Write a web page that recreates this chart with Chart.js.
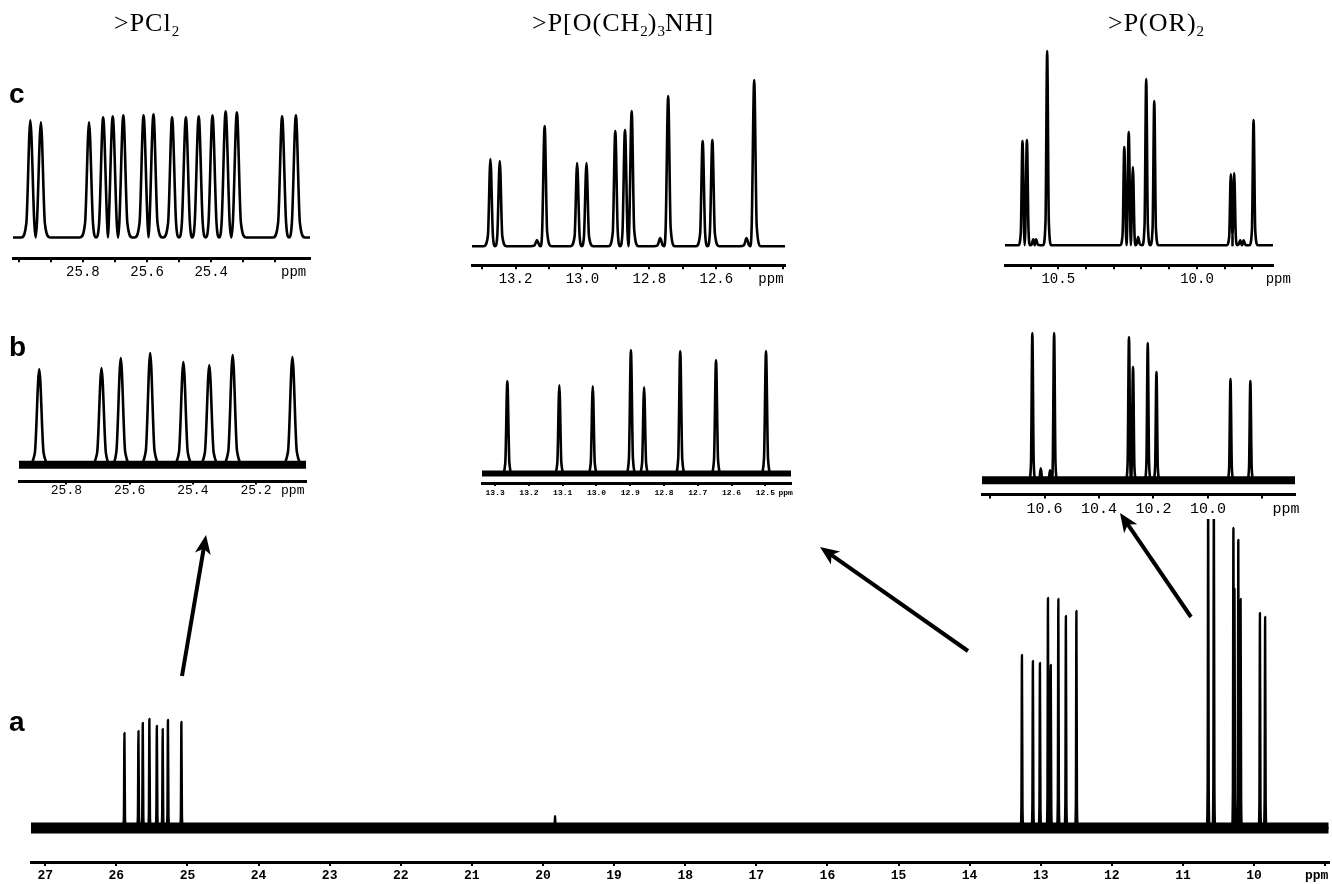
<!DOCTYPE html>
<html>
<head>
<meta charset="utf-8">
<title>31P NMR spectra</title>
<script src="https://cdn.jsdelivr.net/npm/chart.js@4.4.1/dist/chart.umd.min.js"></script>
<style>
  body{margin:0;background:#fff;}
  #wrap{position:relative;width:1332px;height:884px;overflow:hidden;background:#fff;}
  #wrap canvas{position:absolute;}
  .ttl{position:absolute;top:9px;font:26px "Liberation Serif",serif;letter-spacing:1px;white-space:nowrap;line-height:28px;}
  .ttl sub{font-size:15px;vertical-align:-5px;line-height:0;letter-spacing:0;}
  .tag{position:absolute;left:9px;font:bold 28px "Liberation Sans",Arial,sans-serif;line-height:32px;}
</style>
</head>
<body>
<div id="wrap">
  <canvas id="main" width="1332" height="886" style="left:0;top:0"></canvas>
  <div class="ttl" style="left:114px">&gt;PCl<sub>2</sub></div>
  <div class="ttl" style="left:532px">&gt;P[O(CH<sub>2</sub>)<sub>3</sub>NH]</div>
  <div class="ttl" style="left:1108px">&gt;P(OR)<sub>2</sub></div>
  <div class="tag" style="top:78px">c</div>
  <div class="tag" style="top:331px">b</div>
  <div class="tag" style="top:706px">a</div>
</div>
<script>
// ---- spectrum a (full range) ----
const mainTicks = [27, 26, 25, 24, 23, 22, 21, 20, 19, 18, 17, 16, 15, 14, 13, 12, 11, 10, 9];
const mainTickLabels = ['27','26','25','24','23','22','21','20','19','18','17','16','15','14','13','12','11','10',''];
const mainPpm = [25.886, 25.689, 25.628, 25.535, 25.430, 25.348, 25.274, 25.085, 19.83,
                 13.264, 13.110, 13.011, 12.898, 12.859, 12.752, 12.646, 12.498,
                 10.645, 10.565, 10.290, 10.275, 10.221, 10.189, 9.917, 9.844];
const mainHeight = [95, 97, 105, 109, 102, 99, 108, 106, 12,
                    173, 167, 165, 230, 163, 229, 212, 217,
                    340, 340, 300, 239, 288, 229, 215, 211];

// ---- row c ----
const cPcl2Ppm = [25.964, 25.931, 25.781, 25.737, 25.707, 25.674, 25.611, 25.580, 25.522, 25.479, 25.439, 25.396, 25.355, 25.320, 25.179, 25.136];
const cPcl2Height = [117, 115, 115, 120, 121, 122, 122, 123, 120, 120, 121, 122, 126, 125, 121, 122];
const cPcl2Ticks = [26.0, 25.9, 25.8, 25.7, 25.6, 25.5, 25.4, 25.3, 25.2];
const cPcl2TickLabels = ['', '', '25.8', '', '25.6', '', '25.4', '', ''];

const cAminePpm = [13.275, 13.247, 13.136, 13.113, 13.016, 12.988, 12.902, 12.873, 12.853, 12.768, 12.744, 12.641, 12.612, 12.510, 12.487];
const cAmineHeight = [87, 85, 6, 120, 83, 83, 115, 116, 135, 8, 150, 105, 106, 8, 166];
const cAmineTicks = [13.3, 13.2, 13.1, 13.0, 12.9, 12.8, 12.7, 12.6, 12.5, 12.4];
const cAmineTickLabels = ['', '13.2', '', '13.0', '', '12.8', '', '12.6', '', ''];

const cOrPpm = [10.629, 10.613, 10.590, 10.580, 10.540, 10.262, 10.246, 10.231, 10.212, 10.183, 10.154, 9.878, 9.866, 9.844, 9.832, 9.796];
const cOrHeight = [104, 105, 6, 6, 194, 98, 113, 78, 8, 166, 144, 71, 72, 5, 5, 125];
const cOrTicks = [10.6, 10.5, 10.4, 10.3, 10.2, 10.1, 10.0, 9.9, 9.8];
const cOrTickLabels = ['', '10.5', '', '', '', '', '10.0', '', ''];

// ---- row b ----
const bPcl2Ppm = [25.886, 25.689, 25.628, 25.535, 25.430, 25.348, 25.274, 25.085];
const bPcl2Height = [96, 97, 107, 112, 103, 100, 110, 108];
const bPcl2Ticks = [25.8, 25.6, 25.4, 25.2];
const bPcl2TickLabels = ['25.8', '25.6', '25.4', '25.2'];

const bAminePpm = [13.264, 13.110, 13.011, 12.898, 12.859, 12.752, 12.646, 12.498];
const bAmineHeight = [92, 88, 87, 123, 86, 122, 113, 122];
const bAmineTicks = [13.3, 13.2, 13.1, 13.0, 12.9, 12.8, 12.7, 12.6, 12.5];
const bAmineTickLabels = ['13.3', '13.2', '13.1', '13.0', '12.9', '12.8', '12.7', '12.6', '12.5'];

const bOrPpm = [10.645, 10.614, 10.580, 10.565, 10.290, 10.275, 10.221, 10.189, 9.917, 9.844];
const bOrHeight = [147, 12, 10, 147, 143, 113, 137, 108, 101, 99];
const bOrTicks = [10.8, 10.6, 10.4, 10.2, 10.0, 9.8];
const bOrTickLabels = ['', '10.6', '10.4', '10.2', '10.0', ''];

// ---- layout (pixels) and line shapes (half widths in ppm) ----
const insetLayout = {
  cPcl2:  {left: 12.7,  right: 310,    top: 100, axisY: 258,   baseY: 237.3, min: 25.092, max: 26.018, unit: 25.143, w: 0.0125, s: 0.028, fs: 14, fw: 'normal', tl: 4, pad: 1.5, band: 0},
  cAmine: {left: 471.7, right: 785,    top: 70,  axisY: 265,   baseY: 246,   min: 12.395, max: 13.33,  unit: 12.437, w: 0.0075, s: 0.02,  fs: 14, fw: 'normal', tl: 4, pad: 2,   band: 0},
  cOr:    {left: 1005,  right: 1272.7, top: 45,  axisY: 265,   baseY: 245,   min: 9.726,  max: 10.692, unit: 9.707,  w: 0.006,  s: 0.015, fs: 14, fw: 'normal', tl: 4, pad: 2,   band: 0},
  bPcl2:  {left: 19.3,  right: 306.7,  top: 345, axisY: 481.7, baseY: 465,   min: 25.042, max: 25.95,  unit: 25.084, w: 0.014,  s: 0.035, fs: 13, fw: 'normal', tl: 3, pad: -2,  band: 8},
  bAmine: {left: 481.7, right: 790.7,  top: 345, axisY: 482.7, baseY: 473.3, min: 12.424, max: 13.339, unit: 12.44,  w: 0.006,  s: 0.015, fs: 8,  fw: 'bold',   tl: 3, pad: 2.2, band: 6},
  bOr:    {left: 981.7, right: 1295,   top: 325, axisY: 494,   baseY: 480,   min: 9.68,   max: 10.83,  unit: 9.713,  w: 0.005,  s: 0.012, fs: 15, fw: 'normal', tl: 4, pad: 1.3, band: 8}
};
const arrowList = [[182, 676, 206, 535], [968, 651, 820, 547], [1191, 617, 1120, 513]];
const SHOULDER = 0.12;

// peaks -> line trace: baseline with a narrow spike and short skirt per peak
function trace(ppm, height, w, s, lo, hi) {
  const pts = [{x: hi, y: 0}];
  ppm.forEach((p, i) => {
    const g1 = i > 0 ? ppm[i - 1] - p : Infinity;
    const g2 = i < ppm.length - 1 ? p - ppm[i + 1] : Infinity;
    if (g1 >= 2 * s) pts.push({x: p + s, y: 0});
    if (g1 >= 2 * w) pts.push({x: p + w, y: height[i] * SHOULDER});
    pts.push({x: p, y: height[i]});
    if (g2 >= 2 * w) pts.push({x: p - w, y: height[i] * SHOULDER});
    if (g2 >= 2 * s) pts.push({x: p - s, y: 0});
    else pts.push({x: p - g2 / 2, y: 0});
  });
  pts.push({x: lo, y: 0});
  return pts;
}

const unitLabel = {
  id: 'unitLabel',
  afterDraw(chart, args, o) {
    const sc = chart.scales.x, ctx = chart.ctx;
    ctx.save();
    ctx.font = o.font;
    ctx.fillStyle = '#000';
    ctx.textAlign = 'center';
    ctx.textBaseline = 'middle';
    ctx.fillText('ppm', sc.getPixelForValue(o.at), sc.top + o.dy);
    ctx.restore();
  }
};

const arrows = {
  id: 'arrows',
  afterDraw(chart, args, o) {
    const ctx = chart.ctx;
    o.list.forEach(([x1, y1, x2, y2]) => {
      const a = Math.atan2(y2 - y1, x2 - x1);
      ctx.save();
      ctx.strokeStyle = ctx.fillStyle = '#000';
      ctx.lineWidth = 4;
      ctx.beginPath();
      ctx.moveTo(x1, y1);
      ctx.lineTo(x2 - Math.cos(a) * 12, y2 - Math.sin(a) * 12);
      ctx.stroke();
      ctx.translate(x2, y2);
      ctx.rotate(a);
      ctx.beginPath();
      ctx.moveTo(0, 0);
      ctx.lineTo(-19, -8);
      ctx.lineTo(-14, 0);
      ctx.lineTo(-19, 8);
      ctx.closePath();
      ctx.fill();
      ctx.restore();
    });
  }
};

function spectrum(canvas, o) {
  const datasets = [{data: o.points, borderColor: '#000', borderWidth: o.lw, pointRadius: 0,
                     borderJoinStyle: 'round', cubicInterpolationMode: 'monotone'}];
  if (o.band) datasets.push({data: [{x: o.max, y: 0}, {x: o.min, y: 0}], borderColor: '#000', borderWidth: o.band, pointRadius: 0});
  const font = {family: '"Liberation Mono", monospace', size: o.fs, weight: o.fw};
  return new Chart(canvas, {
    type: 'line',
    data: {datasets},
    options: {
      responsive: false, animation: false, events: [],
      layout: {padding: o.padding},
      plugins: {
        legend: {display: false}, tooltip: {enabled: false},
        unitLabel: {at: o.unit, dy: o.tl + o.pad + o.fs * 0.6, font: `${o.fw} ${o.fs}px "Liberation Mono", monospace`},
        arrows: {list: o.arrows || []}
      },
      scales: {
        x: {
          type: 'linear', reverse: true, min: o.min, max: o.max,
          afterBuildTicks: axis => { axis.ticks = o.ticks.map(v => ({value: v})); },
          ticks: {autoSkip: false, maxRotation: 0, padding: o.pad, color: '#000', font, callback: (v, i) => o.labels[i]},
          grid: {display: true, drawOnChartArea: false, drawTicks: true, tickLength: o.tl, color: '#000', lineWidth: 2},
          border: {display: true, color: '#000', width: 3}
        },
        y: {display: false, min: o.ymin, max: o.ymax}
      }
    },
    plugins: o.arrows ? [unitLabel, arrows] : [unitLabel]
  });
}

// main spectrum a
spectrum(document.getElementById('main'), {
  points: trace(mainPpm, mainHeight, 0.008, 0.02, 8.95, 27.2),
  min: 8.95, max: 27.2, ymin: -34, ymax: 309, lw: 2.4, band: 11,
  ticks: mainTicks, labels: mainTickLabels, unit: 9.12,
  fs: 13, fw: 'bold', tl: 4, pad: 2.2,
  padding: {left: 31, right: 3.3, top: 519, bottom: 0},
  arrows: arrowList
});

function inset(L, ppm, height, ticks, labels) {
  const padL = 4, padR = 34, padB = 12;
  // x axis box height as Chart.js measures it: tick marks + label line + padding on both sides
  const axisH = L.tl + 2 * L.pad + L.fs * 1.2;
  const cv = document.createElement('canvas');
  cv.width = Math.round(L.right - L.left + padL + padR);
  cv.height = Math.round(L.axisY - L.top + axisH + padB);
  cv.style.left = (L.left - padL) + 'px';
  cv.style.top = L.top + 'px';
  document.getElementById('wrap').appendChild(cv);
  spectrum(cv, {
    points: trace(ppm, height, L.w, L.s, L.min, L.max),
    min: L.min, max: L.max, ymin: -(L.axisY - L.baseY), ymax: L.baseY - L.top,
    lw: 2.6, band: L.band, ticks, labels, unit: L.unit,
    fs: L.fs, fw: L.fw, tl: L.tl, pad: L.pad,
    padding: {left: padL, right: padR, top: 0, bottom: padB}
  });
}

inset(insetLayout.cPcl2, cPcl2Ppm, cPcl2Height, cPcl2Ticks, cPcl2TickLabels);
inset(insetLayout.cAmine, cAminePpm, cAmineHeight, cAmineTicks, cAmineTickLabels);
inset(insetLayout.cOr, cOrPpm, cOrHeight, cOrTicks, cOrTickLabels);
inset(insetLayout.bPcl2, bPcl2Ppm, bPcl2Height, bPcl2Ticks, bPcl2TickLabels);
inset(insetLayout.bAmine, bAminePpm, bAmineHeight, bAmineTicks, bAmineTickLabels);
inset(insetLayout.bOr, bOrPpm, bOrHeight, bOrTicks, bOrTickLabels);
</script>
</body>
</html>
